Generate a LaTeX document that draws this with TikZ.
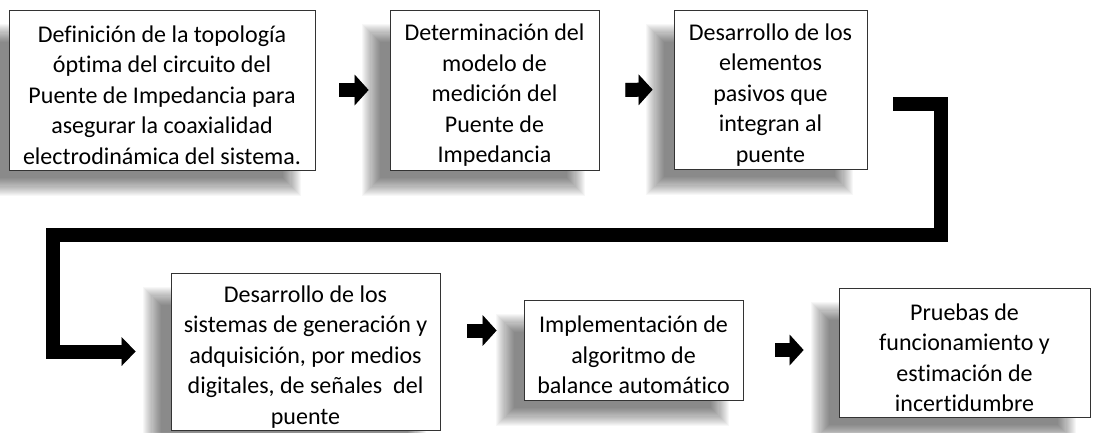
\documentclass[tikz,border=0pt]{standalone}
\usepackage{fontspec}
\setmainfont{Carlito}[Ligatures=NoCommon]
\usetikzlibrary{arrows.meta,calc}
\pgfdeclarelayer{background}
\pgfsetlayers{background,main}
\newcommand\toppad{\rule{0pt}{27pt}}
\begin{document}
\begin{tikzpicture}[x=1pt,y=-1pt,
  stepbox/.style={draw=black!80, line width=0.8pt, fill=white, inner sep=0pt,
    align=center, font=\fontsize{24}{30.5}\selectfont},
  blk/.style={line width=14pt, -{Triangle[width=30pt,length=14pt]}},
  big/.style={line width=14pt, -{Triangle[width=28pt,length=14pt]}},
  shd/.style={draw=black, opacity=0.3, xshift=-2pt, yshift=-3pt},
  softshadow/.style={fill=black, opacity=0.03}
]
\useasboundingbox (0,0) rectangle (1099,432);

\node[stepbox, minimum width=306pt, minimum height=160pt] (b1) at (162,90)
  {\toppad Definición de la topología\\óptima del circuito del\\Puente de Impedancia para\\asegurar la coaxialidad\\electrodinámica del sistema.};
\node[stepbox, minimum width=209pt, minimum height=160pt] (b2) at (494.5,90)
  {\toppad Determinación del\\modelo de\\medición del\\Puente de\\Impedancia};
\node[stepbox, minimum width=193pt, minimum height=159pt] (b3) at (770.5,89.5)
  {\toppad Desarrollo de los\\elementos\\pasivos que\\integran al\\puente};
\node[stepbox, minimum width=269pt, minimum height=157pt] (b4) at (305.5,351.5)
  {\toppad Desarrollo de los\\sistemas de generación y\\adquisición, por medios\\digitales, de señales~ del\\puente};
\node[stepbox, minimum width=219pt, minimum height=100pt] (b5) at (633.5,350)
  {\toppad Implementación de\\algoritmo de\\balance automático};
\node[stepbox, minimum width=251pt, minimum height=129pt] (b6) at (964.5,352.5)
  {\toppad Pruebas de\\funcionamiento y\\estimación de\\incertidumbre};

\begin{pgfonlayer}{background}
\fill[white] (0,0) rectangle (1099,432);
\foreach \b in {b1,b2,b3,b4,b5,b6}{
  \foreach \i in {0,...,17}{
    \fill[softshadow] ($(\b.north west)+(-28+1.1*\i,14+1.1*\i)$) rectangle ($(\b.south east)+(-14-1.1*\i,26-1.1*\i)$);
  }
}
\end{pgfonlayer}

\coordinate (c1) at (940.5,235);
\coordinate (c2) at (53,235);

% shadows of connectors
\begin{scope}[shd]
\draw[blk, shorten <=24pt, shorten >=21pt] (b1.east) -- (b2.west);
\draw[blk, shorten <=26pt, shorten >=21pt] (b2.east) -- (b3.west);
\draw[blk, shorten <=27pt, shorten >=27pt] ([yshift=21pt]b4.east) -- ([yshift=21pt]b4.east -| b5.west);
\draw[blk, shorten <=32pt, shorten >=35pt] (b5.east) -- (b5.east -| b6.west);
\draw[big, shorten <=26pt, shorten >=35pt] ([yshift=-14pt]b3.east) -| (c1) -- (c2) |- (b4.west);
\end{scope}

\draw[blk, shorten <=24pt, shorten >=21pt] (b1.east) -- (b2.west);
\draw[blk, shorten <=26pt, shorten >=21pt] (b2.east) -- (b3.west);
\draw[blk, shorten <=27pt, shorten >=27pt] ([yshift=21pt]b4.east) -- ([yshift=21pt]b4.east -| b5.west);
\draw[blk, shorten <=32pt, shorten >=35pt] (b5.east) -- (b5.east -| b6.west);
\draw[big, shorten <=26pt, shorten >=35pt] ([yshift=-14pt]b3.east) -| (c1) -- (c2) |- (b4.west);
\end{tikzpicture}
\end{document}
